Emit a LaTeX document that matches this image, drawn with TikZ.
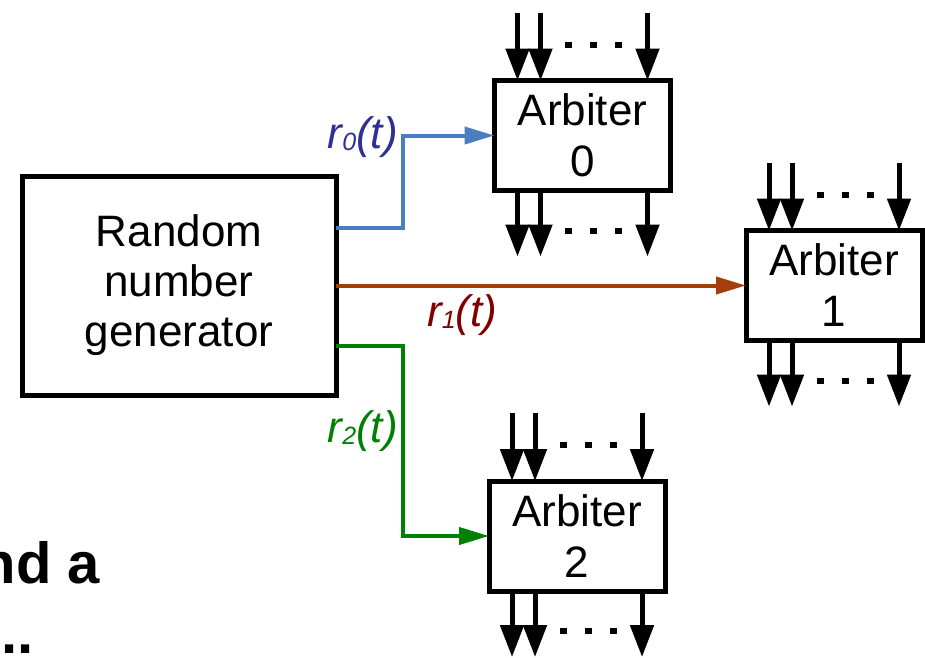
\documentclass[tikz,border=0pt]{standalone}
\usepackage{fontspec}
\setmainfont{Liberation Sans}
\usetikzlibrary{arrows.meta,calc}
\definecolor{rzero}{RGB}{74,126,193}
\definecolor{rzerotxt}{RGB}{46,49,146}
\definecolor{rone}{RGB}{163,64,10}
\definecolor{ronetxt}{RGB}{128,0,0}
\definecolor{rtwo}{RGB}{0,128,0}
\begin{document}
\begin{tikzpicture}[x=1pt,y=-1pt,
  box/.style={draw,line width=5pt,inner sep=0pt,outer sep=0pt,align=center,font=\fontsize{44}{51}\selectfont},
  arb/.style={box,minimum width=176pt,minimum height=110pt},
  bus/.style={line width=5pt,-{Triangle[length=32pt,width=23pt]}},
  sig/.style={line width=4pt,-{Triangle[length=30pt,width=17pt]}},
  lbl/.style={font=\fontsize{44}{44}\selectfont\itshape,inner sep=0pt},
  big/.style={font=\fontsize{58}{70}\selectfont\bfseries,inner sep=0pt}]
\useasboundingbox (0,0) rectangle (925,657);
\node[box,minimum width=314pt,minimum height=219pt,font=\fontsize{44}{50}\selectfont] (rng) at (179,285.5) {Random\\number\\generator};
\node[arb] (A0) at (582.5,135.5) {Arbiter\\0};
\node[arb] (A1) at (834,285.5) {Arbiter\\1};
\node[arb] (A2) at (577,536) {Arbiter\\2};
\foreach \a in {A0,A1,A2} {
  \foreach \dx/\n in {23/a,46/b,153/c} {
    \coordinate (\a-in\n) at ($(\a.north west)+(\dx,-68)$);
    \coordinate (\a-out\n) at ($(\a.south west)+(\dx,66)$);
    \draw[bus] (\a-in\n) -- (\a-in\n |- \a.north);
    \draw[bus] (\a-in\n |- \a.south) -- (\a-out\n);
  }
  \foreach \dx in {74,99,124} {
    \fill ($(\a.north west)+(\dx-3.5,-39)$) rectangle ++(7,6);
    \fill ($(\a.south west)+(\dx-3.5,37)$) rectangle ++(7,6);
  }
}
\draw[sig,rzero] ($(rng.north east)+(0,52)$) -- ++(67,0) |- (A0.west);
\draw[sig,rone] (rng.east) -- (A1.west);
\draw[sig,rtwo] ($(rng.north east)+(0,170)$) -- ++(67,0) |- (A2.west);
\node[lbl,text=rzerotxt,anchor=base east] (l0) at (398,148) {r\raisebox{-2pt}{\fontsize{25}{25}\selectfont 0}(t)};
\node[lbl,text=ronetxt,anchor=base west] (l1) at (427,326) {r\raisebox{-2pt}{\fontsize{25}{25}\selectfont 1}(t)};
\node[lbl,text=rtwo,anchor=base east] (l2) at (398,442) {r\raisebox{-2pt}{\fontsize{25}{25}\selectfont 2}(t)};
\node[big,anchor=base east] (t1) at (100,583) {nd a};
\node[big,anchor=base east] (t2) at (34,653) {..};
\end{tikzpicture}
\end{document}
